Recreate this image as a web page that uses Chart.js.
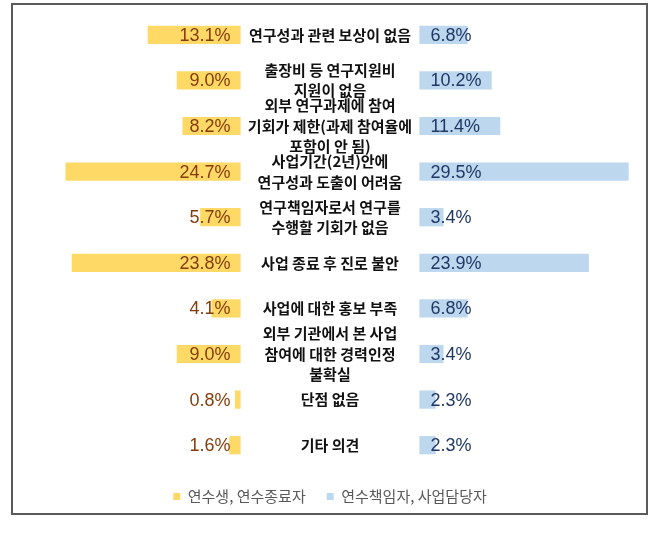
<!DOCTYPE html>
<html>
<head>
<meta charset="utf-8">
<script src="https://cdn.jsdelivr.net/npm/chart.js@4/dist/chart.umd.min.js"></script>
<style>
  html, body { margin: 0; padding: 0; background: #ffffff; }
  #wrap { position: relative; width: 660px; height: 535px; }
</style>
</head>
<body>
<div id="wrap"><canvas id="c" width="660" height="535"></canvas></div>
<script>
const categories = [
  ["연구성과 관련 보상이 없음"],
  ["출장비 등 연구지원비", "지원이 없음"],
  ["외부 연구과제에 참여", "기회가 제한(과제 참여율에", "포함이 안 됨)"],
  ["사업기간(2년)안에", "연구성과 도출이 어려움"],
  ["연구책임자로서 연구를", "수행할 기회가 없음"],
  ["사업 종료 후 진로 불안"],
  ["사업에 대한 홍보 부족"],
  ["외부 기관에서 본 사업", "참여에 대한 경력인정", "불확실"],
  ["단점 없음"],
  ["기타 의견"]
];
const seriesNames = ["연수생, 연수종료자", "연수책임자, 사업담당자"];
const traineeValues = [13.1, 9.0, 8.2, 24.7, 5.7, 23.8, 4.1, 9.0, 0.8, 1.6];
const managerValues = [6.8, 10.2, 11.4, 29.5, 3.4, 23.9, 6.8, 3.4, 2.3, 2.3];

// half-width of the central label gap, in value units
const GAP = 12.6;

const leftData = traineeValues.map(v => [-GAP - v, -GAP]);
const rightData = managerValues.map(v => [GAP, GAP + v]);

const framePlugin = {
  id: 'frame',
  beforeDraw(chart) {
    const ctx = chart.ctx;
    ctx.save();
    ctx.fillStyle = '#ffffff';
    ctx.fillRect(0, 0, chart.width, chart.height);
    ctx.strokeStyle = '#5a5a5a';
    ctx.lineWidth = 2;
    ctx.strokeRect(12, 4, 635, 510);
    ctx.restore();
  }
};

const labelPlugin = {
  id: 'labels',
  afterDatasetsDraw(chart) {
    const ctx = chart.ctx;
    const xs = chart.scales.x;
    const ys = chart.scales.y;
    const cx = xs.getPixelForValue(0);
    const leftEdge = xs.getPixelForValue(-GAP);
    const rightEdge = xs.getPixelForValue(GAP);
    ctx.save();
    ctx.textBaseline = 'middle';
    // value labels
    ctx.font = '18px "Liberation Sans", Arial, sans-serif';
    traineeValues.forEach((v, i) => {
      const y = ys.getPixelForValue(i);
      ctx.fillStyle = '#843C0C';
      ctx.textAlign = 'right';
      ctx.fillText(v.toFixed(1) + '%', leftEdge - 10, y + 1);
    });
    managerValues.forEach((v, i) => {
      const y = ys.getPixelForValue(i);
      ctx.fillStyle = '#203864';
      ctx.textAlign = 'left';
      ctx.fillText(v.toFixed(1) + '%', rightEdge + 11, y + 1);
    });
    // category labels
    ctx.font = 'bold 15px "Noto Sans CJK KR", sans-serif';
    ctx.fillStyle = '#111111';
    ctx.textAlign = 'center';
    const lh = 20.5;
    categories.forEach((lines, i) => {
      const y = ys.getPixelForValue(i);
      const start = y - (lines.length - 1) * lh / 2;
      lines.forEach((t, k) => ctx.fillText(t, cx, start + k * lh));
    });
    ctx.restore();
  }
};

new Chart(document.getElementById('c'), {
  type: 'bar',
  data: {
    labels: categories.map(l => l.join(' ')),
    datasets: [
      {
        label: seriesNames[0],
        data: leftData,
        backgroundColor: '#FFD966',
        borderWidth: 0,
        grouped: false,
        barPercentage: 0.4,
        categoryPercentage: 1.0
      },
      {
        label: seriesNames[1],
        data: rightData,
        backgroundColor: '#BDD7EE',
        borderWidth: 0,
        grouped: false,
        barPercentage: 0.4,
        categoryPercentage: 1.0
      }
    ]
  },
  options: {
    indexAxis: 'y',
    responsive: false,
    animation: false,
    layout: { padding: { top: 12, left: 20, right: 20, bottom: 21 } },
    scales: {
      x: { display: false, min: -43.7, max: 43.7 },
      y: { display: false }
    },
    plugins: {
      legend: {
        position: 'bottom',
        labels: {
          boxWidth: 7,
          boxHeight: 7,
          padding: 21,
          color: '#595959',
          font: { family: '"Noto Sans CJK KR", sans-serif', size: 15 }
        }
      },
      tooltip: { enabled: false }
    }
  },
  plugins: [framePlugin, labelPlugin]
});
</script>
</body>
</html>
